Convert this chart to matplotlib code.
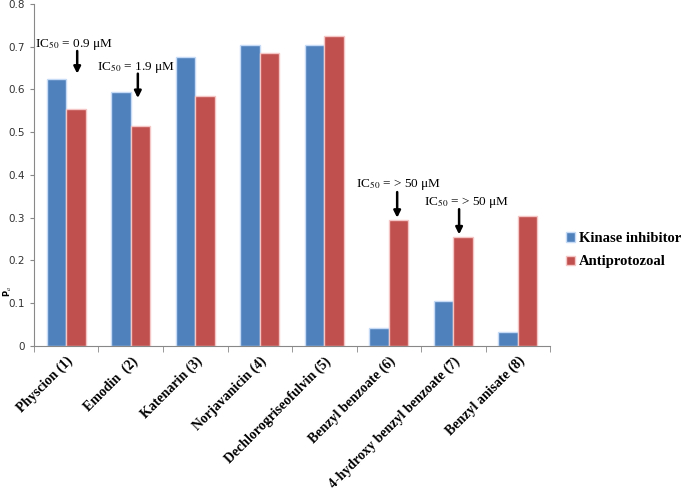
import numpy as np
import matplotlib
matplotlib.use('Agg')
import matplotlib.pyplot as plt

compounds = ['Physcion (1)', 'Emodin  (2)', 'Katenarin (3)', 'Norjavanicin (4)',
             'Dechlorogriseofulvin (5)', 'Benzyl benzoate (6)',
             '4-hydroxy benzyl benzoate (7)', 'Benzyl anisate (8)']
kinase = [0.625, 0.595, 0.675, 0.705, 0.705, 0.042, 0.105, 0.033]
antiprotozoal = [0.555, 0.515, 0.585, 0.685, 0.725, 0.295, 0.255, 0.305]

ic50_labels = ['IC$_{50}$ = 0.9 \u03bcM', 'IC$_{50}$ = 1.9 \u03bcM',
               'IC$_{50}$ = > 50 \u03bcM', 'IC$_{50}$ = > 50 \u03bcM']

plt.rcParams['mathtext.fontset'] = 'stix'

fig = plt.figure(figsize=(6.85, 4.95), dpi=100)
ax = fig.add_axes([0.0496, 0.301, 0.7534, 0.691])

x = np.arange(len(compounds))
w = 0.3
ax.bar(x - w / 2, kinase, w, color='#4F81BD', edgecolor='#C6DBF5', linewidth=1.0,
       label='Kinase inhibitor')
ax.bar(x + w / 2, antiprotozoal, w, color='#C0504D', edgecolor='#F5C6C6', linewidth=1.0,
       label='Antiprotozoal')

ax.set_xlim(-0.5, len(compounds) - 0.5)
ax.set_ylim(0, 0.8)
ax.set_yticks(np.arange(0, 0.81, 0.1))
ax.set_yticklabels(['0', '0.1', '0.2', '0.3', '0.4', '0.5', '0.6', '0.7', '0.8'])
ax.tick_params(axis='y', labelsize=7.5, colors='#333333', length=3, color='#888888')

ax.set_xticks(x)
ax.set_xticklabels(compounds, rotation=45, ha='right', rotation_mode='anchor',
                   family='Liberation Serif', fontweight='bold', fontsize=10)
ax.tick_params(axis='x', which='major', length=0, pad=6)
ax.set_xticks(np.arange(-0.5, len(compounds)), minor=True)
ax.tick_params(axis='x', which='minor', length=4, color='#888888')

for s in ['top', 'right']:
    ax.spines[s].set_visible(False)
for s in ['left', 'bottom']:
    ax.spines[s].set_color('#888888')

ax.set_ylabel('P$_a$', fontsize=6, fontweight='bold')
ax.yaxis.set_label_coords(-0.038, 0.16)

# IC50 annotations
text_pos = [(0.12, 0.705), (1.08, 0.652), (5.16, 0.377), (6.21, 0.335)]
arrow_pos = [(0.17, 0.690, 0.637), (1.11, 0.637, 0.580),
             (5.13, 0.360, 0.300), (6.09, 0.320, 0.261)]
for lab, (tx, ty), (ax_, y0, y1) in zip(ic50_labels, text_pos, arrow_pos):
    ax.text(tx, ty, lab, ha='center', va='center', fontsize=9.5,
            family='Liberation Serif')
    ax.annotate('', xy=(ax_, y1), xytext=(ax_, y0),
                arrowprops=dict(arrowstyle='-|>', color='black', lw=1.8,
                                mutation_scale=10, shrinkA=0, shrinkB=0))

leg = ax.legend(loc='center left', bbox_to_anchor=(1.005, 0.28), frameon=False,
                prop={'family': 'Liberation Serif', 'weight': 'bold', 'size': 10.5},
                handlelength=0.6, handleheight=0.6, handletextpad=0.3,
                labelspacing=0.7)

plt.savefig('out.png', dpi=100)
